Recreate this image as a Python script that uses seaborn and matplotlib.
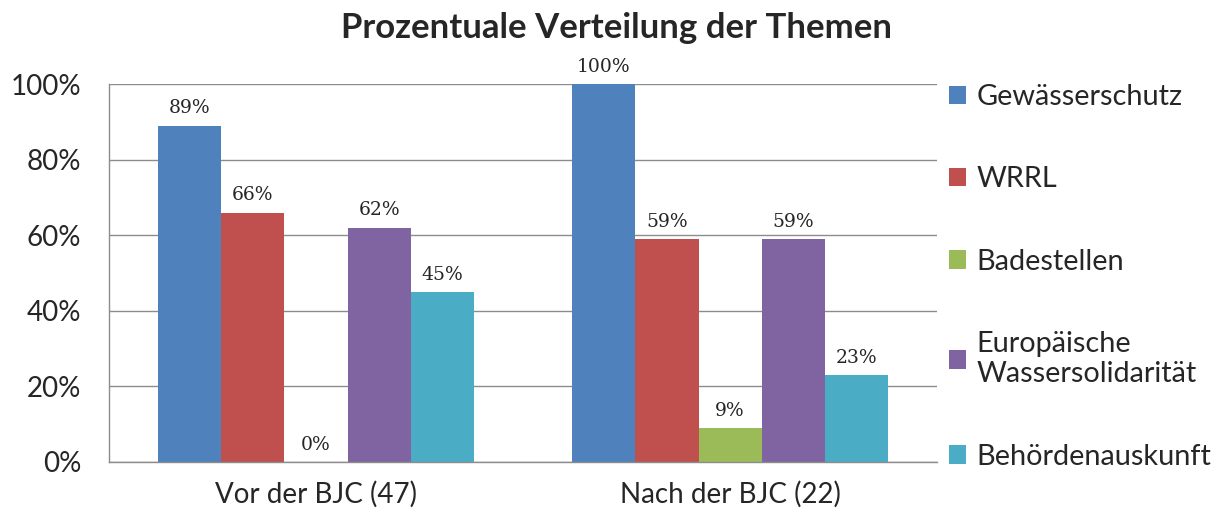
import pandas as pd
import matplotlib.pyplot as plt
import seaborn as sns

# Data
groups = ["Vor der BJC (47)", "Nach der BJC (22)"]
themes = ["Gewässerschutz", "WRRL", "Badestellen",
          "Europäische\nWassersolidarität", "Behördenauskunft"]
vor = [89, 66, 0, 62, 45]
nach = [100, 59, 9, 59, 23]
colors = ["#4f81bd", "#c0504d", "#9bbb59", "#8064a2", "#4bacc6"]

df = pd.DataFrame({
    "gruppe": [groups[0]] * len(themes) + [groups[1]] * len(themes),
    "thema": themes * 2,
    "wert": vor + nach,
})

sns.set_style("white")
plt.rcParams['font.family'] = ['Lato', 'DejaVu Sans']

fig = plt.figure(figsize=(12.25, 5.19), dpi=100)
ax = fig.add_axes([0.089, 0.110, 0.676, 0.728])

sns.barplot(data=df, x="gruppe", y="wert", hue="thema", hue_order=themes,
            palette=colors, saturation=1, width=0.763, linewidth=0, ax=ax)

ax.set_ylim(0, 100)
ax.set_yticks(range(0, 101, 20))
ax.set_yticklabels([f"{v}%" for v in range(0, 101, 20)], fontsize=20)
ax.tick_params(axis="x", labelsize=20, length=0, pad=14)
ax.tick_params(axis="y", length=0, pad=20)
ax.set_xlabel("")
ax.set_ylabel("")
ax.grid(axis="y", color="#8c8c8c", linewidth=1)
ax.set_axisbelow(True)
for side in ["top", "right"]:
    ax.spines[side].set_visible(False)
for side in ["left", "bottom"]:
    ax.spines[side].set_color("#8c8c8c")
    ax.spines[side].set_linewidth(1)

# data labels
for cont in ax.containers:
    ax.bar_label(cont, labels=[f"{v:.0f}%" for v in cont.datavalues],
                 padding=6, fontsize=13.5, family="DejaVu Serif")

fig.text(0.503, 0.946, "Prozentuale Verteilung der Themen", fontsize=25,
         fontweight="bold", ha="center", va="center")

leg = ax.legend(loc="center left", bbox_to_anchor=(1.0, 0.49), frameon=False,
                fontsize=20.8, handlelength=0.6, handleheight=0.6,
                handletextpad=0.35, labelspacing=1.95, borderaxespad=0.4,
                borderpad=0)

fig.savefig("out.png", dpi=100)
